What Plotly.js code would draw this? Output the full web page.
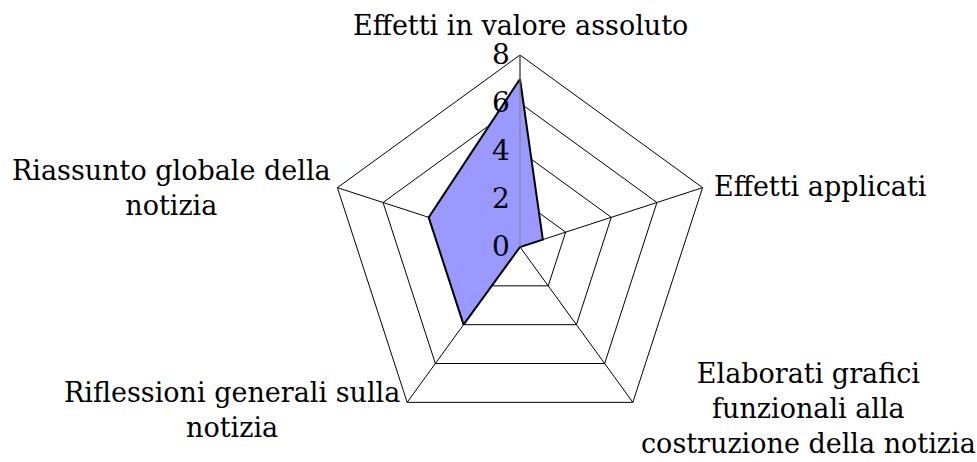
<!DOCTYPE html>
<html>
<head>
<meta charset="utf-8">
<script src="https://cdn.plot.ly/plotly-3.0.1.min.js"></script>
<style>html,body{margin:0;padding:0;background:#fff;}#chart{width:977px;height:462px;}</style>
</head>
<body>
<div id="chart"></div>
<script>
var categories = [
  "Effetti in valore assoluto",
  "Effetti applicati",
  "Elaborati grafici<br>funzionali alla<br>costruzione della notizia",
  "Riflessioni generali sulla<br>notizia",
  "Riassunto globale della<br>notizia"
];
var values = [7, 1, 0, 4, 4];
var radialTicks = [0, 2, 4, 6, 8];

var W = 977, H = 462;
// label centres (pixels) for the category names
var labelPos = [[520, 26], [820, 186], [808, 408], [232, 410], [171, 188]];

var trace = {
  type: "scatterpolar",
  r: values.concat([values[0]]),
  theta: categories.concat([categories[0]]),
  mode: "lines",
  fill: "toself",
  fillcolor: "#9999FF",
  line: {color: "#000000", width: 2},
  hoverinfo: "skip"
};

var FONT = "DejaVu Serif, serif";

var annotations = categories.map(function (c, i) {
  return {
    text: c,
    xref: "paper", yref: "paper",
    x: labelPos[i][0] / W,
    y: 1 - labelPos[i][1] / H,
    xanchor: "center", yanchor: "middle",
    align: "center",
    showarrow: false,
    font: {family: FONT, size: 27, color: "#000000"}
  };
});

var layout = {
  width: W,
  height: H,
  margin: {l: 0, r: 0, t: 0, b: 0},
  paper_bgcolor: "#ffffff",
  showlegend: false,
  font: {family: FONT, color: "#000000", size: 27},
  annotations: annotations,
  polar: {
    domain: {x: [328 / W, 712 / W], y: [1 - 439 / H, 1 - 55 / H]},
    bgcolor: "rgba(0,0,0,0)",
    gridshape: "linear",
    radialaxis: {
      range: [0, 8],
      tickvals: radialTicks,
      ticktext: radialTicks.map(String),
      angle: 90,
      tickangle: 90,
      side: "counterclockwise",
      showline: true,
      linecolor: "#808080",
      linewidth: 1,
      gridcolor: "#000000",
      gridwidth: 1,
      ticks: "",
      tickfont: {family: FONT, size: 28, color: "#000000"}
    },
    angularaxis: {
      direction: "clockwise",
      rotation: 90,
      showline: true,
      linecolor: "#000000",
      linewidth: 1,
      gridcolor: "#000000",
      gridwidth: 1,
      ticks: "",
      showticklabels: false
    }
  }
};

Plotly.newPlot("chart", [trace], layout, {staticPlot: true});
</script>
</body>
</html>
